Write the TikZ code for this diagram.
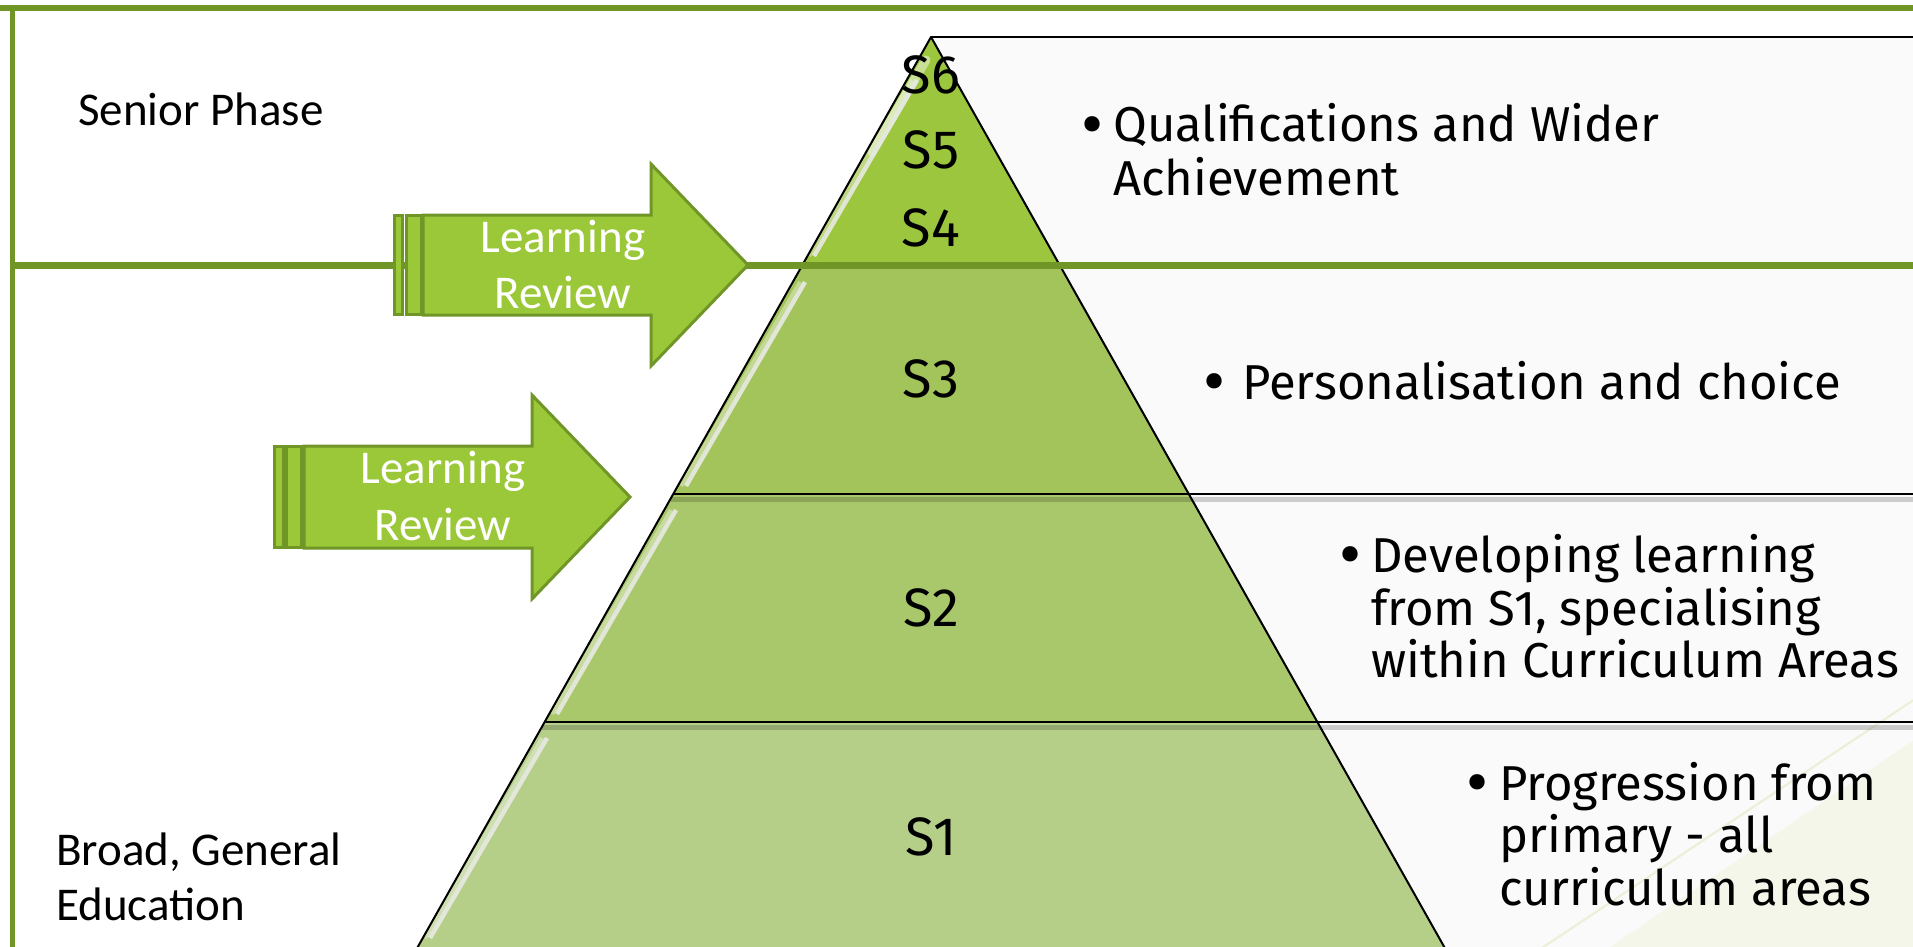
\documentclass[tikz,border=0pt]{standalone}
\usepackage{fontspec}
\setmainfont{Fira Sans}
\newfontfamily\calfont{Carlito}
\begin{document}
\begin{tikzpicture}[x=1pt,y=-1pt,
  framestyle/.style={draw=frameG, line cap=butt},
  arrowshape/.style={fill=arrowF, draw=frameG, line width=3pt, line join=miter},
  bandedge/.style={draw=black, line width=2pt, line join=round},
  divider/.style={draw=black, line width=2.5pt},
  gloss/.style={draw=glossC, opacity=0.9, line width=4.5pt, line cap=butt},
  glossin/.style={draw=white, opacity=0.35, line width=4pt, line cap=butt},
  slabel/.style={inner sep=0pt, font=\fontsize{54}{60}\selectfont, text=black},
  btext/.style={inner sep=0pt, anchor=base west, font=\fontsize{49}{53}\selectfont, text=black},
  bdot/.style={inner sep=0pt, anchor=base west, font=\fontsize{68}{53}\selectfont, text=black},
  phase/.style={inner sep=0pt, anchor=base west, font=\calfont\fontsize{47}{55}\selectfont, text=black},
  review/.style={inner sep=0pt, anchor=base, font=\calfont\fontsize{47}{55}\selectfont, text=white}]
\definecolor{frameG}{RGB}{112,150,40}
\definecolor{arrowF}{RGB}{155,200,56}
\definecolor{bandA}{RGB}{156,198,62}
\definecolor{bandB}{RGB}{162,196,90}
\definecolor{bandC}{RGB}{169,200,107}
\definecolor{bandD}{RGB}{181,206,136}
\definecolor{boxF}{RGB}{250,250,250}
\definecolor{decoTri}{RGB}{243,246,232}
\definecolor{decoLine}{RGB}{234,239,214}
\definecolor{glossC}{RGB}{232,234,228}

\useasboundingbox (0,0) rectangle (1913,947);
\clip (0,0) rectangle (1913,947);
\fill[white] (0,0) rectangle (1913,947);

% right-hand boxes
\fill[boxF] (931,37) rectangle (1930,970);
\fill[decoTri] (1930,729) -- (1600,954) -- (1930,954) -- cycle;
\draw[decoLine, line width=2pt] (1930,689) -- (1533,954);

% pyramid geometry
\coordinate (apex) at (931,37);
\coordinate (l1) at (802.4,265);  \coordinate (r1) at (1059.6,265);
\coordinate (l2) at (673.3,494);  \coordinate (r2) at (1188.7,494);
\coordinate (l3) at (544.7,722);  \coordinate (r3) at (1317.3,722);
\coordinate (l4) at (410.4,960);  \coordinate (r4) at (1451.6,960);
\coordinate (eT) at (1930,37);
\coordinate (e2) at (1930,494);
\coordinate (e3) at (1930,722);

\fill[bandA] (apex) -- (l1) -- (r1) -- cycle;
\fill[bandB] (l1) -- (l2) -- (r2) -- (r1) -- cycle;
\fill[bandC] (l2) -- (l3) -- (r3) -- (r2) -- cycle;
\fill[bandD] (l3) -- (l4) -- (r4) -- (r3) -- cycle;

% gloss highlights
\draw[white, opacity=0.45, line width=9pt, line cap=round] (926,60) -- (872,152);
\draw[gloss] (917,80) -- (814,256);
\draw[gloss] (805,282) -- (686,486);
\draw[gloss] (676,510) -- (557,714);
\draw[gloss] (547,738) -- (430,938);
\draw[glossin] (912,80) -- (809,256);
\draw[glossin] (800,282) -- (681,486);
\draw[glossin] (671,510) -- (552,714);
\draw[glossin] (542,738) -- (425,938);

% shadows under dividers
\draw[black, opacity=0.18, line width=5pt] (671,499) -- (1930,499);
\draw[black, opacity=0.18, line width=5pt] (542,727) -- (1930,727);

% outlines
\draw[bandedge] (l4) -- (apex) -- (r4);
\draw[bandedge] (apex) -- (eT);
\draw[divider] (l2) -- (e2);
\draw[divider] (l3) -- (e3);

% green frame
\coordinate (fTL) at (12,8);
\coordinate (fTR) at (1930,8);
\coordinate (fBL) at (12,970);
\coordinate (mL) at (12,265);
\coordinate (mR) at (1930,265);
\draw[framestyle, line width=6pt] (-5,8) -- (fTR);
\draw[framestyle, line width=5pt] (fTL) -- (fBL);
\draw[framestyle, line width=7pt] (mL) -- (mR);

% upper Learning Review arrow (striped)
\draw[arrowshape] (394,215) rectangle (402,314);
\draw[arrowshape] (406,215) rectangle (421,314);
\draw[arrowshape] (423,215) -- (651,215) -- (651,164) -- (748,265) -- (651,366) -- (651,315) -- (423,315) -- cycle;
% lower Learning Review arrow (striped)
\draw[arrowshape] (274,446) rectangle (283,547);
\draw[arrowshape] (286,446) rectangle (301,547);
\draw[arrowshape] (304,446) -- (532,446) -- (532,395) -- (630,497) -- (532,599) -- (532,548) -- (304,548) -- cycle;

\node[review] (lr1a) at (563,252) {Learning};
\node[review] (lr1b) at (563,308) {Review};
\node[review] (lr2a) at (443,483) {Learning};
\node[review] (lr2b) at (443,540) {Review};

% phase labels
\node[phase] (senior) at (78,126) {Senior Phase};
\node[phase] (bge1) at (56,865) {Broad, General};
\node[phase] (bge2) at (56,920) {Education};

% stage labels
\node[slabel] (s6) at (931,75) {S6};
\node[slabel] (s5) at (931,150) {S5};
\node[slabel] (s4) at (931,228) {S4};
\node[slabel] (s3) at (931,379) {S3};
\node[slabel] (s2) at (931,608) {S2};
\node[slabel] (s1) at (931,837) {S1};

% bullet texts
\node[bdot] (q0) at (1081,147) {•};
\node[btext] (q1) at (1113,142) {Qualifications and Wider};
\node[btext] (q2) at (1113,195) {Achievement};

\node[bdot] (p0) at (1203,404) {•};
\node[btext] (p1) at (1242,399) {Personalisation and choice};

\node[bdot] (d0) at (1339,577) {•};
\node[btext] (d1) at (1371,572) {Developing learning};
\node[btext] (d2) at (1371,625) {from S1, specialising};
\node[btext] (d3) at (1371,677) {within Curriculum Areas};

\node[bdot] (g0) at (1466,805) {•};
\node[btext] (g1) at (1499,800) {Progression from};
\node[btext] (g2) at (1499,852) {primary - all};
\node[btext] (g3) at (1499,905) {curriculum areas};
\end{tikzpicture}
\end{document}
